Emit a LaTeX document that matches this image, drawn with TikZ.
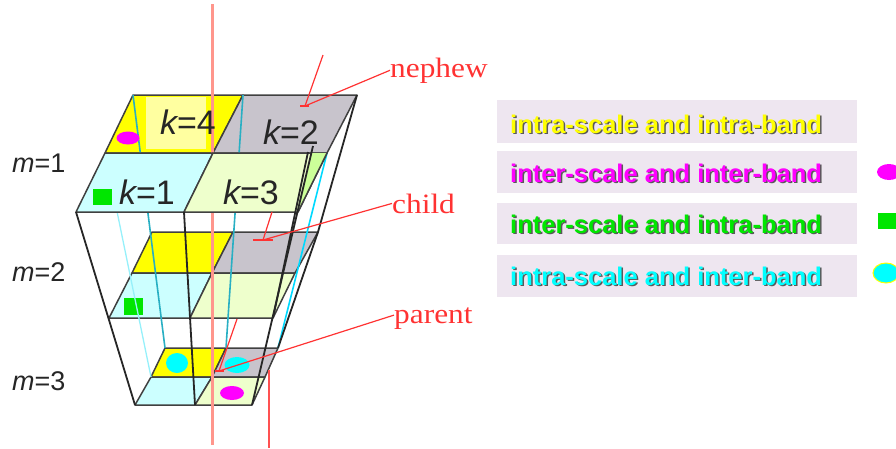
\documentclass[tikz,border=0pt]{standalone}
\usepackage{fontspec}
\setmainfont{Liberation Serif}
\newfontfamily\arialf{Liberation Sans}
\usetikzlibrary{arrows.meta}
\definecolor{cgray}{RGB}{200,196,204}
\definecolor{cyel}{RGB}{255,255,0}
\definecolor{cyellite}{RGB}{255,255,160}
\definecolor{ccyan}{RGB}{204,255,255}
\definecolor{cgreen}{RGB}{238,255,204}
\definecolor{cgreenb}{RGB}{204,255,153}
\definecolor{legfill}{RGB}{238,230,240}
\definecolor{mag}{RGB}{255,0,255}
\definecolor{grn}{RGB}{0,230,0}
\definecolor{cyn}{RGB}{0,255,255}
\definecolor{teal2}{RGB}{40,175,195}
\definecolor{lcyan}{RGB}{150,240,250}
\definecolor{ptred}{RGB}{255,50,50}
\definecolor{salmon}{RGB}{255,150,140}
\newcommand\klab[1]{{\itshape k}=#1}
\newcommand\mlab[1]{{\itshape m}=#1}
\begin{document}
\begin{tikzpicture}[x=1pt,y=-1pt,
  cell/.style={draw=black!75, line width=1.5pt, line join=round},
  frame/.style={draw=black!85, line width=1.8pt},
  klabel/.style={font=\arialf\fontsize{34}{36}\selectfont, text=black!85, inner sep=0},
  mlabel/.style={font=\arialf\fontsize{27}{30}\selectfont, text=black!85, anchor=base west, inner sep=0},
  rellabel/.style={font=\fontsize{28}{30}\selectfont, text=ptred, anchor=base west, inner sep=0},
  pointer/.style={draw=ptred, line width=1.2pt},
  legbox/.style={fill=legfill, minimum width=360pt, inner sep=0},
  legtxt/.style={font=\arialf\bfseries\fontsize{25.5}{28}\selectfont, anchor=base west, inner sep=0},
  legshadow/.style={legtxt, text=black!65}
]
\useasboundingbox (0,0) rectangle (896,448);
% level 1
\coordinate (ATL) at (133,95);  \coordinate (ATM) at (243,95);  \coordinate (ATR) at (357,95);
\coordinate (AML) at (105,153); \coordinate (AMM) at (213,153); \coordinate (AMR) at (327,153);
\coordinate (ABL) at (76,212);  \coordinate (ABM) at (184,212); \coordinate (ABR) at (298,212);
% level 2
\coordinate (BTL) at (152,232); \coordinate (BTM) at (233,232); \coordinate (BTR) at (318,232);
\coordinate (BML) at (132,273); \coordinate (BMM) at (212,273); \coordinate (BMR) at (295,273);
\coordinate (BBL) at (109,318); \coordinate (BBM) at (190,318); \coordinate (BBR) at (273,318);
% level 3
\coordinate (CTL) at (165,348); \coordinate (CTM) at (226,348); \coordinate (CTR) at (278,348);
\coordinate (CML) at (151,377); \coordinate (CMM) at (212,377); \coordinate (CMR) at (265,377);
\coordinate (CBL) at (135,405); \coordinate (CBM) at (195,405); \coordinate (CBR) at (252,405);

% level 3 cells
\filldraw[cell, fill=cyel] (CTL) -- (CTM) -- (CMM) -- (CML) -- cycle;
\filldraw[cell, fill=cgray] (CTM) -- (CTR) -- (CMR) -- (CMM) -- cycle;
\filldraw[cell, fill=ccyan] (CML) -- (CMM) -- (CBM) -- (CBL) -- cycle;
\filldraw[cell, fill=cgreen] (CMM) -- (CMR) -- (CBR) -- (CBM) -- cycle;
% level 2 cells
\filldraw[cell, fill=cyel] (BTL) -- (BTM) -- (BMM) -- (BML) -- cycle;
\filldraw[cell, fill=cgray] (BTM) -- (BTR) -- (BMR) -- (BMM) -- cycle;
\filldraw[cell, fill=ccyan] (BML) -- (BMM) -- (BBM) -- (BBL) -- cycle;
\filldraw[cell, fill=cgreen] (BMM) -- (BMR) -- (BBR) -- (BBM) -- cycle;
% level 1 top row
\fill[cyel] (ATL) -- (ATM) -- (AMM) -- (AML) -- cycle;
\fill[cyellite] (146,97) rectangle (206,149);
\draw[cell] (ATL) -- (ATM) -- (AMM) -- (AML) -- cycle;
\filldraw[cell, fill=cgray] (ATM) -- (ATR) -- (AMR) -- (AMM) -- cycle;

% markers in levels 2 and 3
\fill[grn] (124,298) rectangle (143,315);
\fill[cyn] (177,363) ellipse [x radius=11, y radius=10];
\fill[cyn] (237,365) ellipse [x radius=12.5, y radius=8];
\fill[mag] (232,393) ellipse [x radius=12, y radius=7];

% cyan relation lines
\draw[teal2, line width=1.6pt] (ATL) -- (CTL);
\draw[teal2, line width=1.6pt] (ATM) -- (CTM);
\draw[lcyan, line width=1.3pt] (AML) -- (CML);
\draw[cyn!85!blue, line width=1.6pt] (AMR) -- (CTR);

% red vertical lines
\coordinate (vtop) at (212,4);
\coordinate (vbot) at (212,445);
\draw[salmon, line width=3pt] (vtop) -- (vbot);
\coordinate (v2top) at (269,370);
\coordinate (v2bot) at (269,448);
\draw[ptred!85!white, line width=1.5pt] (v2top) -- (v2bot);

% level 1 bottom row
\filldraw[cell, fill=ccyan] (AML) -- (AMM) -- (ABM) -- (ABL) -- cycle;
\filldraw[cell, fill=cgreen] (AMM) -- (AMR) -- (ABR) -- (ABM) -- cycle;
\fill[cgreenb] (311,153) -- (AMR) -- (ABR) -- cycle;
\draw[cell] (AMR) -- (ABR);

% markers in level 1
\fill[mag] (128,138) ellipse [x radius=11.5, y radius=6.5];
\fill[grn] (93,189) rectangle (112,205);

% frame lines
\coordinate (cstart) at (313,146);
\coordinate (dstart) at (308,152);
\draw[frame] (ABL) -- (CBL);
\draw[frame] (ABM) -- (CBM);
\draw[frame] (ATR) -- (BTR) -- (CTR);
\draw[frame] (cstart) -- (CBR);
\draw[frame] (dstart) -- (BBR);

% k and m labels
\node[klabel] (k4) at (188,122) {\klab{4}};
\node[klabel] (k2) at (291,132) {\klab{2}};
\node[klabel] (k1) at (147,192) {\klab{1}};
\node[klabel] (k3) at (251,192) {\klab{3}};
\node[mlabel] (m1) at (12,172) {\mlab{1}};
\node[mlabel] (m2) at (12,281) {\mlab{2}};
\node[mlabel] (m3) at (12,390) {\mlab{3}};

% relation labels and pointers
\node[rellabel] (nephew) at (390,77) {\scalebox{1.12}[1]{nephew}};
\node[rellabel] (child) at (392,213) {\scalebox{1.12}[1]{child}};
\node[rellabel] (parent) at (394,323) {\scalebox{1.12}[1]{parent}};
\coordinate (nephewtip) at (305,106);
\coordinate (nephewsrc) at (323,55);
\coordinate (childtip) at (263,240);
\coordinate (childsrc) at (272,212);
\coordinate (parenttip) at (219,371);
\coordinate (parentsrc) at (237,319);
\draw[pointer] (nephew.west) -- (nephewtip);
\draw[pointer] (nephewsrc) -- (nephewtip);
\draw[pointer] ([xshift=-5pt]nephewtip) -- ([xshift=4pt]nephewtip);
\draw[pointer] (child.west) -- (childtip);
\draw[pointer] (childsrc) -- (childtip);
\draw[pointer] ([xshift=-10pt]childtip) -- ([xshift=10pt]childtip);
\draw[pointer] ([yshift=3pt]parent.west) -- (parenttip);
\draw[pointer] (parentsrc) -- (parenttip);
\draw[pointer] ([xshift=-4pt]parenttip) -- ([xshift=5pt]parenttip);

% legend
\node[legbox, minimum height=43pt] (lb1) at (677,121.5) {};
\node[legbox, minimum height=42pt] (lb2) at (677,172) {};
\node[legbox, minimum height=41pt] (lb3) at (677,223.5) {};
\node[legbox, minimum height=42pt] (lb4) at (677,276) {};
\node[legshadow] (ls1) at (511.5,134.5) {intra-scale and intra-band};
\node[legtxt, text=cyel] (lt1) at (510,133) {intra-scale and intra-band};
\node[legshadow] (ls2) at (511.5,183.5) {inter-scale and inter-band};
\node[legtxt, text=mag] (lt2) at (510,182) {inter-scale and inter-band};
\node[legshadow] (ls3) at (511.5,234.5) {inter-scale and intra-band};
\node[legtxt, text=grn] (lt3) at (510,233) {inter-scale and intra-band};
\node[legshadow] (ls4) at (511.5,286.5) {intra-scale and inter-band};
\node[legtxt, text=cyn] (lt4) at (510,285) {intra-scale and inter-band};

% legend markers (cut by the right edge)
\fill[mag] (889,172) ellipse [x radius=12, y radius=8];
\fill[grn] (878,213) rectangle (897,229);
\filldraw[fill=cyn, draw=cyel, line width=1pt] (886,273) ellipse [x radius=13, y radius=10];
\end{tikzpicture}
\end{document}
